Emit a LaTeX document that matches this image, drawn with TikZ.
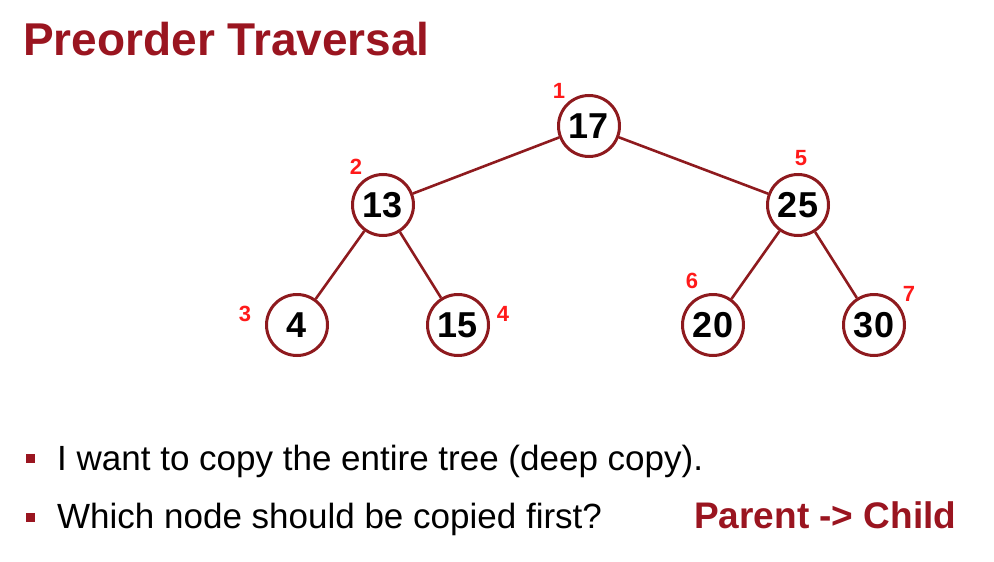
\documentclass[tikz,border=0pt]{standalone}
\usepackage{fontspec}
\setmainfont{Liberation Sans}
\definecolor{dred}{HTML}{9A1520}
\definecolor{edgec}{HTML}{8E1A1E}
\definecolor{lblred}{HTML}{FF1A1A}
\begin{document}
\begin{tikzpicture}[x=1pt,y=-1pt,
  tnode/.style={circle,draw=edgec,line width=3pt,fill=white,minimum size=61pt,inner sep=0pt,
    font=\fontsize{36}{40}\selectfont\bfseries,text=black},
  tedge/.style={draw=edgec,line width=2.6pt},
  ordlbl/.style={font=\fontsize{22}{24}\selectfont\bfseries,text=lblred,inner sep=0pt},
  bulletsq/.style={fill=dred,minimum size=9pt,inner sep=0pt},
  btext/.style={font=\fontsize{35}{38}\selectfont,anchor=base west,inner sep=0pt,text=black}]
\useasboundingbox (0,0) rectangle (994,562);
\node[anchor=base west,inner sep=0pt,text=dred,font=\fontsize{46}{50}\selectfont\bfseries] (title) at (23,55) {Preorder Traversal};
% tree nodes
\node[tnode] (n17) at (589,126) {17};
\node[tnode] (n13) at (383,205) {13};
\node[tnode] (n25) at (798,205) {25};
\node[tnode] (n4) at (297,325) {4};
\node[tnode] (n15) at (458,325) {15};
\node[tnode] (n20) at (713,325) {20};
\node[tnode] (n30) at (874,325) {30};
% edges
\draw[tedge] (n17) -- (n13);
\draw[tedge] (n17) -- (n25);
\draw[tedge] (n13) -- (n4);
\draw[tedge] (n13) -- (n15);
\draw[tedge] (n25) -- (n20);
\draw[tedge] (n25) -- (n30);
% order labels
\node[ordlbl] (l1) at (559,91) {1};
\node[ordlbl] (l2) at (356,167) {2};
\node[ordlbl] (l3) at (245,314) {3};
\node[ordlbl] (l4) at (503,314) {4};
\node[ordlbl] (l5) at (801,158) {5};
\node[ordlbl] (l6) at (692,281) {6};
\node[ordlbl] (l7) at (909,294) {7};
% bullets
\node[bulletsq] (b1) at (30,458) {};
\node[bulletsq] (b2) at (30,517) {};
\node[btext] (t1) at (57,470) {I want to copy the entire tree (deep copy).};
\node[btext] (t2) at (57,528) {Which node should be copied first?};
\node[anchor=base west,inner sep=0pt,text=dred,font=\fontsize{37}{40}\selectfont\bfseries] (ans) at (694,528) {Parent -> Child};
\end{tikzpicture}
\end{document}
